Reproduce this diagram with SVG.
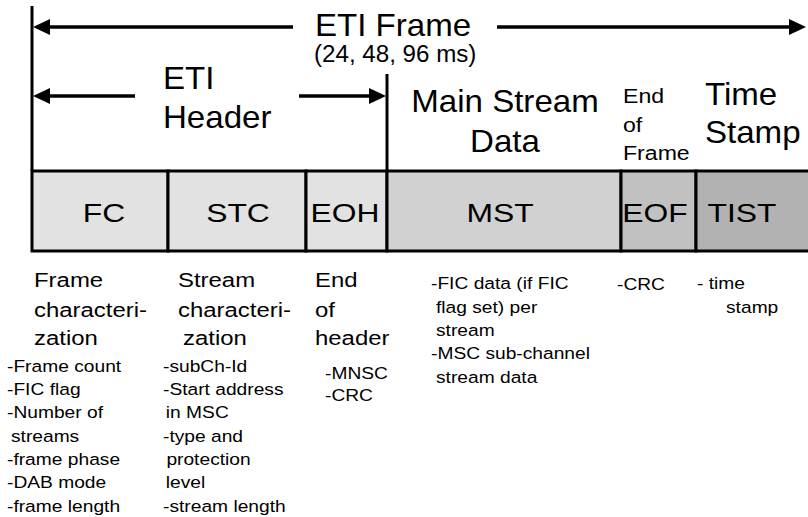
<svg xmlns="http://www.w3.org/2000/svg" width="808" height="517" viewBox="0 0 808 517">
<style>
  text { font-family: "Liberation Sans", Arial, sans-serif; fill: #000; }
  .hd { font-size: 31.5px; }
  .sub { font-size: 23px; }
  .eof { font-size: 21px; }
  .bx { font-size: 26.5px; text-anchor: middle; }
  .big { font-size: 21px; }
  .sm { font-size: 17px; }
  .seg { stroke: #000; stroke-width: 3; }
  .dim { stroke: #000; stroke-width: 3; fill: none; }
  .arr { stroke: #000; stroke-width: 3.5; fill: none; marker-end: url(#ah); }
</style>
<defs>
  <marker id="ah" markerUnits="userSpaceOnUse" viewBox="0 0 17 16" markerWidth="17" markerHeight="16" refX="6" refY="8" orient="auto">
    <path d="M0,0 L17,8 L0,16 Z" fill="#000"/>
  </marker>
</defs>

<!-- frame segments -->
<g id="node-fc">
  <rect class="seg" x="32" y="171" width="136" height="80" fill="#e2e2e2"/>
  <text class="bx" transform="translate(104,222) scale(1.2,1)">FC</text>
</g>
<g id="node-stc">
  <rect class="seg" x="168" y="171" width="138" height="80" fill="#e2e2e2"/>
  <text class="bx" transform="translate(238,222) scale(1.2,1)">STC</text>
</g>
<g id="node-eoh">
  <rect class="seg" x="306" y="171" width="81" height="80" fill="#e2e2e2"/>
  <text class="bx" transform="translate(345,222) scale(1.2,1)">EOH</text>
</g>
<g id="node-mst">
  <rect class="seg" x="387" y="171" width="234" height="80" fill="#d1d1d1"/>
  <text class="bx" transform="translate(500,222) scale(1.2,1)">MST</text>
</g>
<g id="node-eof">
  <rect class="seg" x="621" y="171" width="75" height="80" fill="#c1c1c1"/>
  <text class="bx" transform="translate(655,222) scale(1.2,1)">EOF</text>
</g>
<g id="node-tist">
  <rect class="seg" x="696" y="171" width="120" height="80" fill="#b2b2b2"/>
  <text class="bx" transform="translate(742,222) scale(1.2,1)">TIST</text>
</g>

<!-- connectors: dimension lines and arrows -->
<g id="connectors">
  <line class="dim" x1="32" y1="6" x2="32" y2="171"/>
  <line class="dim" x1="387" y1="74" x2="387" y2="171"/>
  <line class="arr" x1="293" y1="27" x2="44" y2="27"/>
  <line class="arr" x1="497" y1="27" x2="795" y2="27"/>
  <line class="arr" x1="135" y1="96" x2="44" y2="96"/>
  <line class="arr" x1="299" y1="96" x2="375" y2="96"/>
</g>

<!-- top labels -->
<g id="label-eti-frame">
  <text class="hd" transform="translate(315,36) scale(1.05,1)">ETI Frame</text>
  <text class="sub" transform="translate(314,62) scale(1.05,1)">(24, 48, 96 ms)</text>
</g>
<g id="label-eti-header">
  <text class="hd" transform="translate(163,0) scale(1.05,1)"><tspan x="0" y="89">ETI</tspan><tspan x="0" y="128">Header</tspan></text>
</g>
<g id="label-msd">
  <text class="hd" text-anchor="middle" transform="translate(505,0) scale(1.05,1)"><tspan x="0" y="112">Main Stream</tspan><tspan x="0" y="152">Data</tspan></text>
</g>
<g id="label-eof">
  <text class="eof" transform="translate(623,0) scale(1.1,1)"><tspan x="0" y="103">End</tspan><tspan x="0" y="132">of</tspan><tspan x="0" y="160">Frame</tspan></text>
</g>
<g id="label-ts">
  <text class="hd" transform="translate(705,0) scale(1.05,1)"><tspan x="0" y="105">Time</tspan><tspan x="0" y="143">Stamp</tspan></text>
</g>

<!-- descriptions -->
<g id="desc-fc">
  <text class="big" transform="translate(34,0) scale(1.14,1)"><tspan x="0" y="287">Frame</tspan><tspan x="0" y="317">characteri-</tspan><tspan x="0" y="345">zation</tspan></text>
  <text class="sm" transform="translate(7,0) scale(1.13,1)"><tspan x="0" y="372">-Frame count</tspan><tspan x="0" y="395">-FIC flag</tspan><tspan x="0" y="418">-Number of</tspan><tspan x="3.5" y="442">streams</tspan><tspan x="0" y="465">-frame phase</tspan><tspan x="0" y="488">-DAB mode</tspan><tspan x="0" y="512">-frame length</tspan></text>
</g>
<g id="desc-stc">
  <text class="big" transform="translate(178,0) scale(1.14,1)"><tspan x="0" y="287">Stream</tspan><tspan x="0" y="317">characteri-</tspan><tspan x="4.4" y="345">zation</tspan></text>
  <text class="sm" transform="translate(163,0) scale(1.13,1)"><tspan x="0" y="372">-subCh-Id</tspan><tspan x="0" y="395">-Start address</tspan><tspan x="2.5" y="418">in MSC</tspan><tspan x="0" y="442">-type and</tspan><tspan x="3" y="465">protection</tspan><tspan x="2.5" y="488">level</tspan><tspan x="0" y="512">-stream length</tspan></text>
</g>
<g id="desc-eoh">
  <text class="big" transform="translate(315,0) scale(1.14,1)"><tspan x="0" y="287">End</tspan><tspan x="0" y="317">of</tspan><tspan x="0" y="345">header</tspan></text>
  <text class="sm" transform="translate(325,0) scale(1.13,1)"><tspan x="0" y="379">-MNSC</tspan><tspan x="0" y="401">-CRC</tspan></text>
</g>
<g id="desc-mst">
  <text class="sm" transform="translate(431,0) scale(1.13,1)"><tspan x="0" y="289.5">-FIC data (if FIC</tspan><tspan x="4.4" y="313">flag set) per</tspan><tspan x="4.4" y="336">stream</tspan><tspan x="0" y="359.5">-MSC sub-channel</tspan><tspan x="4.4" y="383">stream data</tspan></text>
</g>
<g id="desc-eof">
  <text class="sm" transform="translate(617,289.5) scale(1.13,1)">-CRC</text>
</g>
<g id="desc-tist">
  <text class="sm" transform="translate(697,0) scale(1.13,1)"><tspan x="0" y="289.5">- time</tspan><tspan x="25.7" y="313">stamp</tspan></text>
</g>
</svg>
